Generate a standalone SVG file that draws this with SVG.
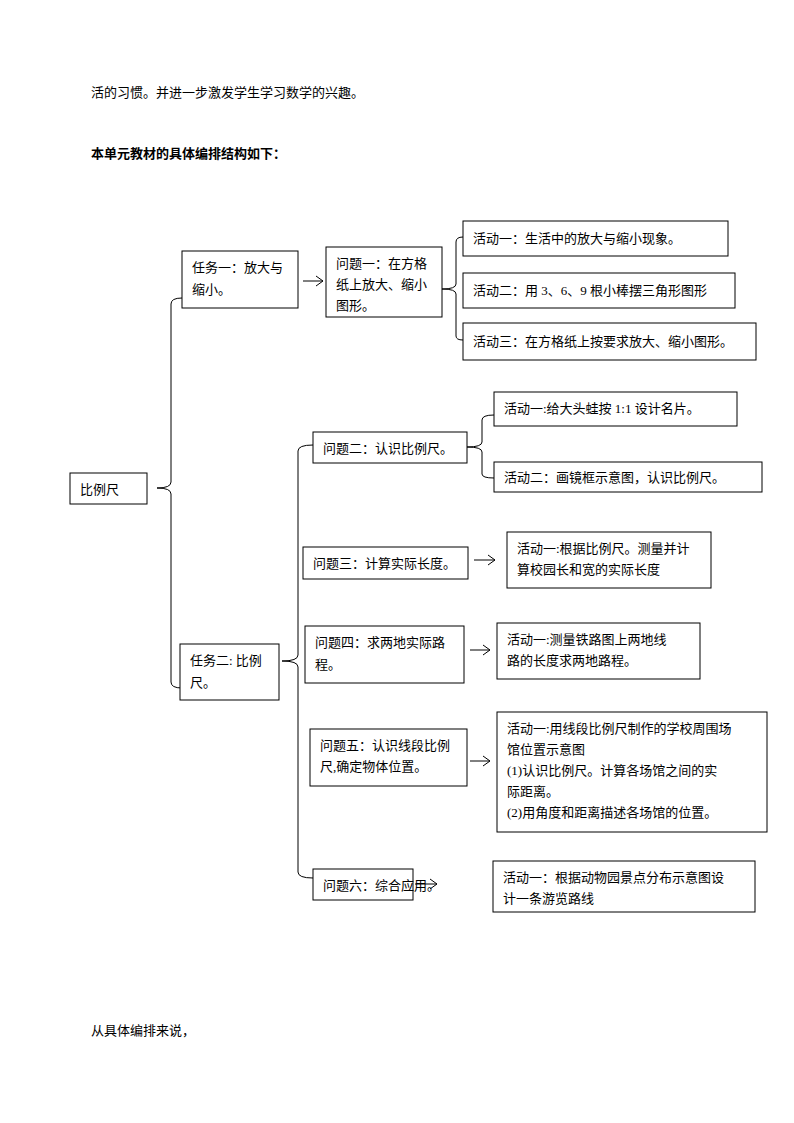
<svg xmlns="http://www.w3.org/2000/svg" width="794" height="1123" viewBox="0 0 794 1123">
<style>
text{font-family:"Liberation Serif","Noto Sans CJK SC",serif;font-size:13px;fill:#000}
.b{font-weight:bold}
rect{fill:#fff;stroke:#000;stroke-width:1}
.c path,.c line{fill:none;stroke:#000;stroke-width:1}
</style>
<rect width="794" height="1123" style="stroke:none"/>
<text x="91" y="97">活的习惯。并进一步激发学生学习数学的兴趣。</text>
<text x="91" y="158" class="b">本单元教材的具体编排结构如下：</text>
<text x="91" y="1035">从具体编排来说，</text>
<g class="c">
<path d="M182,298 Q171,298 171,304 L171,482 Q171,488 157,488 Q171,488 171,494 L171,682 Q171,688 182,688"/>
<path d="M313,445 Q298,445 298,451 L298,655 Q298,661 282,661 Q298,661 298,667 L298,872 Q298,878 313,878"/>
<path d="M463,237 Q456,237 456,242 L456,284 Q456,289 442,289 Q456,289 456,294 L456,336 Q456,340 463,340"/>
<path d="M494,415 Q482,415 482,420 L482,442 Q482,447 467,447 Q482,447 482,452 L482,474 Q482,478 494,478"/>
<path d="M303,281 H323 M316,276 L323,281 L316,286"/>
<path d="M474,560 H495 M488,555 L495,560 L488,565"/>
<path d="M470,650 H490 M483,645 L490,650 L483,655"/>
<path d="M470,761 H490 M483,756 L490,761 L483,766"/>
<path d="M415,884 H437 M430,879 L437,884 L430,889"/>
</g>
<g id="n0"><rect x="70" y="473" width="77" height="31"/><text x="80" y="494">比例尺</text></g>
<g id="n1"><rect x="182" y="251" width="116" height="57"/><text x="192" y="272">任务一：放大与</text><text x="192" y="294">缩小。</text></g>
<g id="n2"><rect x="326" y="247" width="116" height="70"/><text x="336" y="268">问题一：在方格</text><text x="336" y="289">纸上放大、缩小</text><text x="336" y="310">图形。</text></g>
<g id="n3"><rect x="463" y="221" width="265" height="35"/><text x="473" y="243">活动一：生活中的放大与缩小现象。</text></g>
<g id="n4"><rect x="463" y="273" width="272" height="35"/><text x="473" y="295">活动二：用 3、6、9 根小棒摆三角形图形</text></g>
<g id="n5"><rect x="463" y="323" width="293" height="37"/><text x="473" y="346">活动三：在方格纸上按要求放大、缩小图形。</text></g>
<g id="n6"><rect x="313" y="432" width="154" height="31"/><text x="323" y="453">问题二：认识比例尺。</text></g>
<g id="n7"><rect x="494" y="392" width="243" height="34"/><text x="504" y="413">活动一:给大头蛙按 1:1 设计名片。</text></g>
<g id="n8"><rect x="494" y="462" width="268" height="30"/><text x="504" y="482">活动二：画镜框示意图，认识比例尺。</text></g>
<g id="n9"><rect x="303" y="547" width="165" height="32"/><text x="313" y="568">问题三：计算实际长度。</text></g>
<g id="n10"><rect x="507" y="532" width="204" height="56"/><text x="517" y="553">活动一:根据比例尺。测量并计</text><text x="517" y="574">算校园长和宽的实际长度</text></g>
<g id="n11"><rect x="180" y="644" width="99" height="56"/><text x="190" y="665">任务二: 比例</text><text x="190" y="687">尺。</text></g>
<g id="n12"><rect x="305" y="626" width="159" height="57"/><text x="315" y="647">问题四：求两地实际路</text><text x="315" y="669">程。</text></g>
<g id="n13"><rect x="497" y="623" width="203" height="56"/><text x="507" y="644">活动一:测量铁路图上两地线</text><text x="507" y="665">路的长度求两地路程。</text></g>
<g id="n14"><rect x="310" y="729" width="157" height="57"/><text x="320" y="750">问题五：认识线段比例</text><text x="320" y="771">尺,确定物体位置。</text></g>
<g id="n15"><rect x="497" y="712" width="270" height="120"/><text x="507" y="733">活动一:用线段比例尺制作的学校周围场</text><text x="507" y="754">馆位置示意图</text><text x="507" y="775">(1)认识比例尺。计算各场馆之间的实</text><text x="507" y="796">际距离。</text><text x="507" y="817">(2)用角度和距离描述各场馆的位置。</text></g>
<g id="n16"><rect x="313" y="869" width="100" height="31"/><text x="323" y="890">问题六：综合应用。</text></g>
<g id="n17"><rect x="493" y="861" width="262" height="51"/><text x="503" y="882">活动一：根据动物园景点分布示意图设</text><text x="503" y="903">计一条游览路线</text></g>
</svg>
